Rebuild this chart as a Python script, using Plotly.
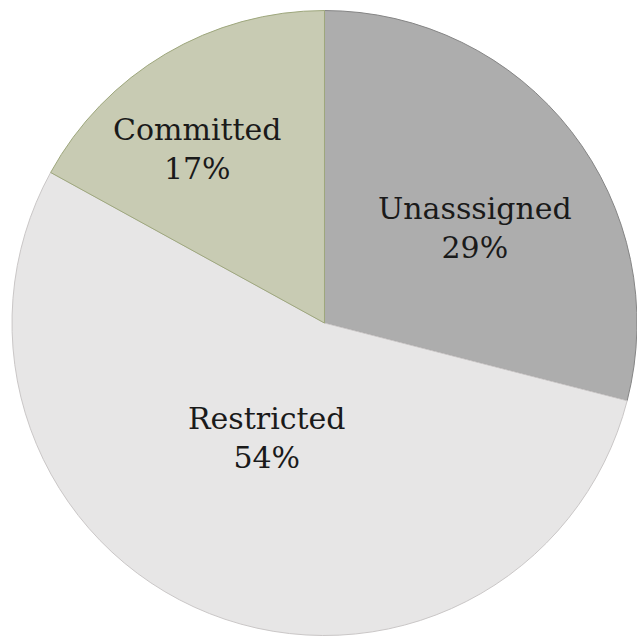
import math
import plotly.graph_objects as go

# Slice data
labels = ["Unasssigned", "Restricted", "Committed"]
values = [29, 54, 17]

# Slice styling
fill_colors = ["#adadad", "#e7e6e6", "#c8cbb3"]
line_colors = ["#858585", "#cac7c7", "#9ea77d"]

# Label placement: fraction of radius and angular nudge (degrees, clockwise)
label_radius = [0.57, 0.41, 0.69]
label_nudge = [5.6, 5.0, -5.6]

W, H = 637, 638
dom_x = [0.0188, 1.0]
dom_y = [0.0039, 0.9835]

fig = go.Figure(
    go.Pie(
        labels=labels,
        values=values,
        sort=False,
        direction="clockwise",
        rotation=0,
        marker=dict(colors=fill_colors, line=dict(color=line_colors, width=1)),
        textinfo="none",
        hoverinfo="label+percent",
        domain=dict(x=dom_x, y=dom_y),
        showlegend=False,
    )
)

# Pie geometry in pixels (plotly fits the circle inside the domain box)
dw = (dom_x[1] - dom_x[0]) * W
dh = (dom_y[1] - dom_y[0]) * H
radius = min(dw, dh) / 2
cx = (dom_x[0] + dom_x[1]) / 2 * W
cy = (dom_y[0] + dom_y[1]) / 2 * H

total = sum(values)
start = 0.0
for lab, val, rf, nudge in zip(labels, values, label_radius, label_nudge):
    frac = val / total
    mid = (start + frac / 2) * 360 + nudge
    start += frac
    ang = math.radians(mid)
    px = cx + rf * radius * math.sin(ang)
    py = cy + rf * radius * math.cos(ang)
    fig.add_annotation(
        x=px / W,
        y=py / H,
        xref="paper",
        yref="paper",
        text=f"{lab}<br>{round(frac * 100)}%",
        showarrow=False,
        font=dict(family="DejaVu Serif", size=30, color="#1a1a1a"),
        align="center",
        xanchor="center",
        yanchor="middle",
    )

fig.update_layout(
    width=W,
    height=H,
    margin=dict(l=0, r=0, t=0, b=0),
    paper_bgcolor="white",
    plot_bgcolor="white",
)

fig.write_html("out.html")
